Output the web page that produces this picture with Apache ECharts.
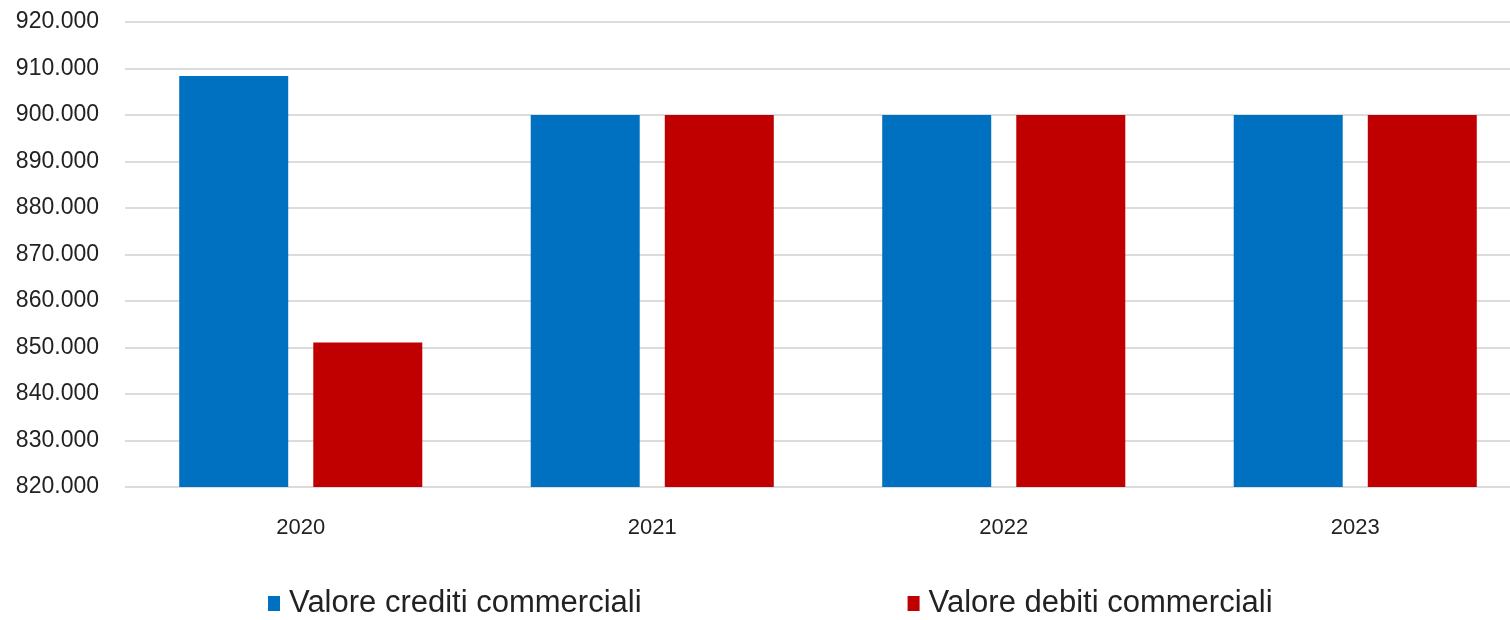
<!doctype html>
<html lang="it">
<head>
    <meta charset="utf-8">
    <title>Crediti e debiti commerciali</title>
    <script src="https://cdn.jsdelivr.net/npm/echarts@6/dist/echarts.min.js"></script>
    <style>
        html, body { margin: 0; padding: 0; background: #fff; overflow: hidden; }
        /* il grafico originale e' tagliato a destra: area piu' larga della finestra */
        #main { width: 1531px; height: 620px; }
    </style>
</head>
<body>
<div id="main"></div>
<script>
    var anni = ['2020', '2021', '2022', '2023'];
    var crediti = [908400, 900000, 900000, 900000];
    var debiti = [851100, 900000, 900000, 900000];
    var nomeCrediti = 'Valore crediti commerciali';
    var nomeDebiti = 'Valore debiti commerciali';

    // separatore migliaia col punto
    var formatta = function (v) {
        return String(v).replace(/\B(?=(\d{3})+(?!\d))/g, '.');
    };

    var myChart = echarts.init(document.getElementById('main'));
    var font = '"Liberation Sans", Arial, sans-serif';

    var option = {
        backgroundColor: '#ffffff',
        animation: false,
        grid: {
            left: 125,
            right: 0,
            top: 22,
            bottom: 133
        },
        legend: {
            left: 263,
            top: 583,
            itemWidth: 12,
            itemHeight: 15,
            itemGap: 266,
            icon: 'rect',
            textStyle: {
                fontFamily: font,
                fontSize: 31,
                color: '#222',
                padding: [0, 0, 0, 4]
            },
            data: [nomeCrediti, nomeDebiti]
        },
        xAxis: {
            type: 'category',
            data: anni,
            axisLine: { show: false },
            axisTick: { show: false },
            axisLabel: {
                margin: 30,
                fontFamily: font,
                fontSize: 22,
                color: '#222'
            }
        },
        yAxis: {
            type: 'value',
            min: 820000,
            max: 920000,
            interval: 10000,
            axisLine: { show: false },
            axisTick: { show: false },
            axisLabel: {
                margin: 26,
                fontFamily: font,
                fontSize: 23,
                color: '#222',
                formatter: formatta
            },
            splitLine: {
                lineStyle: { color: '#dcdcdc', width: 2 }
            }
        },
        series: [
            {
                name: nomeCrediti,
                type: 'bar',
                data: crediti,
                barWidth: 109,
                barGap: '23%',
                itemStyle: { color: '#0070C0' }
            },
            {
                name: nomeDebiti,
                type: 'bar',
                data: debiti,
                barWidth: 109,
                itemStyle: { color: '#C00000' }
            }
        ]
    };

    myChart.setOption(option);
</script>
</body>
</html>
